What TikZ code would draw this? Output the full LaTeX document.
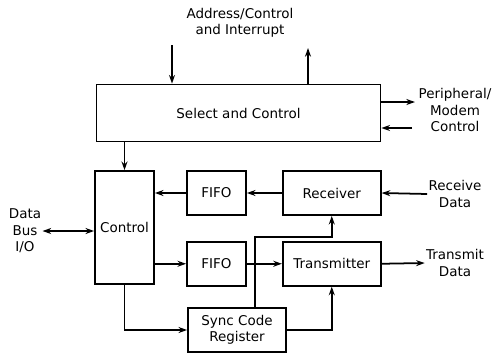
\documentclass[tikz,border=0pt]{standalone}
\usepackage{fontspec}
\setmainfont{DejaVu Sans}
\usetikzlibrary{positioning, arrows.meta}

\begin{document}
\begin{tikzpicture}[
    x=0.3mm, y=-0.3mm,
    font=\fontsize{11.5}{14}\selectfont,
    blk/.style={draw, rectangle, line width=1.5pt, align=center, inner sep=1pt},
    fifo/.style={blk, minimum width=17.7mm, minimum height=13.2mm},
    unit/.style={blk, minimum width=29.4mm, minimum height=13.2mm},
    lbl/.style={align=center, inner sep=1pt},
    arr/.style={line width=1.5pt, -{Stealth[length=2.6mm, width=1.8mm]}},
    biarr/.style={line width=1.5pt, {Stealth[length=2.6mm, width=1.8mm]}-{Stealth[length=2.6mm, width=1.8mm]}}
]
    \useasboundingbox (0,0) rectangle (494,353);

    % blocks
    \node[blk, minimum width=85.2mm, minimum height=17.1mm] (select) at (238.5,113) {Select and Control};
    \node[blk, minimum width=17.7mm, minimum height=33.9mm] (control) at (124.5,227.5) {Control};
    \node[fifo] (fifoin) at (216.5,193) {FIFO};
    \node[fifo] (fifoout) [below=7.5mm of fifoin] {FIFO};
    \node[unit] (rx) [right=10.5mm of fifoin] {Receiver};
    \node[unit] (tx) [right=10.5mm of fifoout] {Transmitter};
    \node[unit] (sync) at (237,330) {Sync Code\\Register};

    % outside labels
    \node[lbl] (addr) at (240,23) {Address/Control\\and Interrupt};
    \node[lbl] (periph) at (455,110) {Peripheral/\\Modem\\Control};
    \node[lbl] (bus) at (25,231) {Data\\Bus\\I/O};
    \node[lbl] (rxd) at (455,194) {Receive\\Data};
    \node[lbl] (txd) at (455,263) {Transmit\\Data};

    \coordinate (addrin) at (172,45);
    \coordinate (addrout) at (308,48);
    \coordinate (perout) at (415,102);
    \coordinate (perin) at (412,128);
    \coordinate (tap) at (255,237);

    % connectors
    \draw[arr] (addrin) -- (addrin |- select.north);
    \draw[arr] (addrout |- select.north) -- (addrout);
    \draw[arr] (perout -| select.east) -- (perout);
    \draw[arr] (perin) -- (perin -| select.east);
    \draw[arr] (select.south -| control) -- (control.north);
    \draw[biarr] (bus.east) -- (bus.east -| control.west);
    \draw[arr] (fifoin.west) -- (fifoin.west -| control.east);
    \draw[arr] (fifoout.west -| control.east) -- (fifoout.west);
    \draw[arr] (rx) -- (fifoin);
    \draw[arr] (fifoout) -- (tx);
    \draw[arr] (rxd.west) -- (rx.east);
    \draw[arr] (tx.east) -- (txd.west);
    \draw[arr] (control.south) |- (sync.west);
    \draw[arr] (sync.east) -| (tx.south);
    \draw[arr] (tap |- sync.north) -- (tap) -| (rx.south);
\end{tikzpicture}
\end{document}
